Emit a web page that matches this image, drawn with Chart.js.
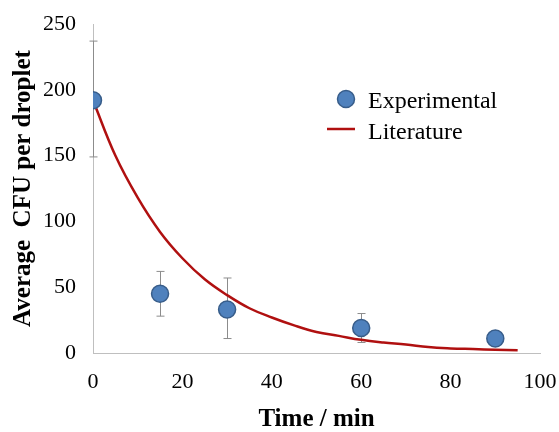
<!DOCTYPE html>
<html>
<head>
<meta charset="utf-8">
<script src="https://cdn.jsdelivr.net/npm/chart.js@4.4.1/dist/chart.umd.min.js"></script>
<style>
  html, body { margin: 0; padding: 0; background: #fff; }
  #chart { display: block; }
</style>
</head>
<body>
<canvas id="chart" width="559" height="432"></canvas>
<script>
// experimental points (time in min, mean CFU, error bar ends)
var expTime = [0, 15, 30, 60, 90];
var expCfu = [192, 45, 33, 19, 11];
var expLow = [149, 28, 11, 8, 11];
var expHigh = [237, 62, 57, 30, 11];

// literature curve, every 5 min
var litTime = [0, 5, 10, 15, 20, 25, 30, 35, 40, 45, 50, 55, 60, 65, 70, 75, 80, 85, 90, 95];
var litCfu = [192, 150, 118, 92, 72, 56, 44, 34, 27, 21, 16, 13, 10, 8, 6.5, 4.5, 3.5, 3, 2.5, 2];

var serif = "'Liberation Serif', 'Times New Roman', serif";

function toPoints(xs, ys) {
    var out = [];
    for (var i = 0; i < xs.length; i++) out.push({x: xs[i], y: ys[i]});
    return out;
}

// grey error bars drawn under the markers
var errorBars = {
    id: 'errorBars',
    beforeDatasetsDraw: function (chart) {
        var ctx = chart.ctx;
        var xs = chart.scales.x, ys = chart.scales.y;
        ctx.save();
        ctx.strokeStyle = '#8c8c8c';
        ctx.lineWidth = 1;
        for (var i = 0; i < expTime.length; i++) {
            var px = Math.round(xs.getPixelForValue(expTime[i])) + 0.5;
            var top = ys.getPixelForValue(expHigh[i]);
            var bot = ys.getPixelForValue(expLow[i]);
            ctx.beginPath();
            ctx.moveTo(px, top); ctx.lineTo(px, bot);
            ctx.moveTo(px - 4, top); ctx.lineTo(px + 4, top);
            ctx.moveTo(px - 4, bot); ctx.lineTo(px + 4, bot);
            ctx.stroke();
        }
        ctx.restore();
    }
};

// legend sitting inside the plot, like the original
var floatLegend = {
    id: 'floatLegend',
    afterDraw: function (chart) {
        var ctx = chart.ctx;
        var d0 = chart.data.datasets[0], d1 = chart.data.datasets[1];
        ctx.save();
        ctx.beginPath();
        ctx.arc(346, 99, 8.5, 0, Math.PI * 2);
        ctx.fillStyle = d0.backgroundColor;
        ctx.fill();
        ctx.lineWidth = d0.borderWidth;
        ctx.strokeStyle = d0.borderColor;
        ctx.stroke();

        ctx.beginPath();
        ctx.moveTo(327, 129); ctx.lineTo(355, 129);
        ctx.lineWidth = d1.borderWidth;
        ctx.strokeStyle = d1.borderColor;
        ctx.stroke();

        ctx.fillStyle = '#000';
        ctx.font = '24px ' + serif;
        ctx.textBaseline = 'middle';
        ctx.fillText(d0.label, 368, 102);
        ctx.fillText(d1.label, 368, 133);
        ctx.restore();
    }
};

// invisible tick marks give the label gap without widening the side padding
var axisGrid = {display: true, drawOnChartArea: false, drawTicks: true, tickLength: 14, tickColor: 'rgba(0,0,0,0)'};

var chart = new Chart(document.getElementById('chart'), {
    type: 'scatter',
    data: {
        datasets: [{
            label: 'Experimental',
            data: toPoints(expTime, expCfu),
            backgroundColor: '#4f81bd',
            borderColor: '#385d8a',
            borderWidth: 1.5,
            pointRadius: 8.5,
            pointHoverRadius: 8.5
        }, {
            label: 'Literature',
            data: toPoints(litTime, litCfu),
            showLine: true,
            borderColor: '#b01010',
            borderWidth: 2.5,
            pointRadius: 0,
            tension: 0.4
        }]
    },
    options: {
        responsive: false,
        animation: false,
        layout: {padding: {top: 24, right: 19, left: 0, bottom: 0}},
        plugins: {legend: {display: false}, tooltip: {enabled: false}},
        scales: {
            x: {
                min: 0, max: 100,
                afterFit: function (s) { s.height = 79; },
                grid: axisGrid,
                border: {display: true, color: '#bfbfbf', width: 1},
                ticks: {stepSize: 20, padding: 2, color: '#000', font: {family: serif, size: 22}},
                title: {display: true, text: 'Time / min', color: '#000', padding: {top: 0, bottom: -3},
                    font: {family: serif, size: 25, weight: 'bold'}}
            },
            y: {
                min: 0, max: 250,
                afterFit: function (s) { s.width = 93; },
                grid: axisGrid,
                border: {display: true, color: '#bfbfbf', width: 1},
                ticks: {stepSize: 50, padding: 3, color: '#000', font: {family: serif, size: 22}},
                title: {display: true, text: 'Average  CFU per droplet', color: '#000', padding: {top: 9, bottom: 0},
                    font: {family: serif, size: 25, weight: 'bold'}}
            }
        }
    },
    plugins: [errorBars, floatLegend]
});
</script>
</body>
</html>
